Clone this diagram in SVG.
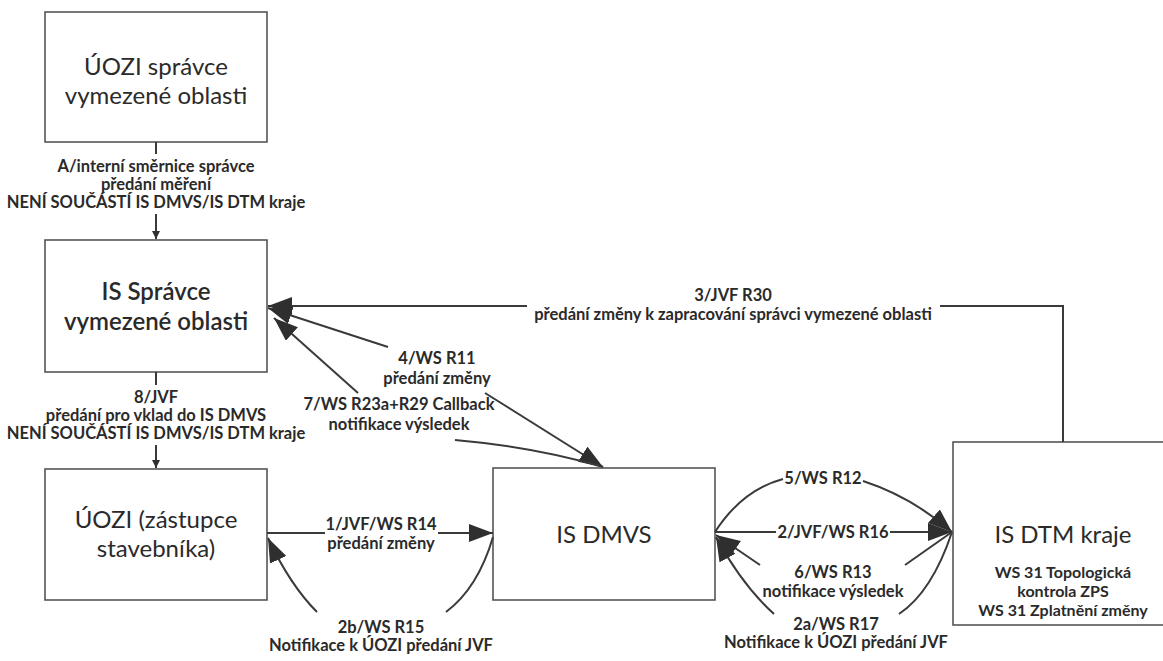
<svg xmlns="http://www.w3.org/2000/svg" width="1163" height="661" viewBox="0 0 1163 661">
<defs>
<style>
.box{fill:#fff;stroke:#555;stroke-width:1.6}
.bt{font-family:Lato,"Liberation Sans",sans-serif;font-size:24px;fill:#2a2a2a;text-anchor:middle}
.st{font-family:Lato,"Liberation Sans",sans-serif;font-size:16px;font-weight:bold;fill:#2a2a2a;text-anchor:middle}
.lb{font-family:Lato,"Liberation Sans",sans-serif;font-size:16.5px;font-weight:bold;fill:#2a2a2a;text-anchor:middle}
.ln{fill:none;stroke:#3a3a3a;stroke-width:2}
.big{marker-end:url(#ah)}
.sm{marker-end:url(#as)}
</style>
<marker id="ah" markerUnits="userSpaceOnUse" markerWidth="26" markerHeight="20" refX="24" refY="9" orient="auto">
<path d="M0,0 L24,9 L0,18 Z" fill="#2f2f2f"/>
</marker>
<marker id="as" markerUnits="userSpaceOnUse" markerWidth="10" markerHeight="10" refX="8" refY="4" orient="auto">
<path d="M0,0 L8,4 L0,8 Z" fill="#2f2f2f"/>
</marker>
</defs>
<rect width="1163" height="661" fill="#fff"/>

<g id="uozi-spravce">
<rect class="box" x="45" y="12" width="222" height="130"/>
<text class="bt" x="156" y="75">ÚOZI správce</text>
<text class="bt" x="156" y="104">vymezené oblasti</text>
</g>

<g id="is-spravce">
<rect class="box" x="45" y="240" width="222" height="132"/>
<text class="bt" x="156" y="300" font-weight="600">IS Správce</text>
<text class="bt" x="156" y="330" font-weight="600">vymezené oblasti</text>
</g>

<g id="uozi-stavebnik">
<rect class="box" x="45" y="469" width="222" height="131"/>
<text class="bt" x="156" y="528">ÚOZI (zástupce</text>
<text class="bt" x="156" y="557">stavebníka)</text>
</g>

<g id="is-dmvs">
<rect class="box" x="493" y="468" width="222" height="132"/>
<text class="bt" x="604" y="543">IS DMVS</text>
</g>

<g id="is-dtm">
<rect class="box" x="953" y="442" width="222" height="183"/>
<text class="bt" x="1063" y="543">IS DTM kraje</text>
<text class="st" x="1063" y="578">WS 31 Topologická</text>
<text class="st" x="1063" y="597">kontrola ZPS</text>
<text class="st" x="1063" y="616">WS 31 Zplatnění změny</text>
</g>

<g id="connectors">
<!-- A -->
<path class="ln" d="M156,142 L156,154"/>
<path class="ln sm" d="M156,214 L156,239" stroke-width="1.5"/>
<!-- 8 -->
<path class="ln" d="M156,372 L156,385"/>
<path class="ln sm" d="M156,445 L156,468" stroke-width="1.5"/>
<!-- 3 -->
<path class="ln" d="M940,306 L1063,306 L1063,442"/>
<path class="ln big" d="M527,306 L268,306"/>
<!-- 4 -->
<path class="ln big" d="M388,347 L268,308"/>
<path class="ln big" d="M485,393 L603,467"/>
<!-- 7 -->
<path class="ln big" d="M358,393 L274,318"/>
<path class="ln" d="M455,440 Q535,447 603,467"/>
<!-- 1 -->
<path class="ln" d="M267,533 L325,533"/>
<path class="ln big" d="M438,533 L493,533"/>
<!-- 2b -->
<path class="ln" d="M493,537 Q478,588 446,612"/>
<path class="ln big" d="M317,612 Q290,585 268,538"/>
<!-- 5 -->
<path class="ln" d="M715,532 Q742,490 783,479"/>
<path class="ln big" d="M863,481 Q912,497 952,532"/>
<!-- 2 -->
<path class="ln" d="M715,532 L776,532"/>
<path class="ln big" d="M890,532 L952,532"/>
<!-- 6 -->
<path class="ln" d="M952,532 L905,565"/>
<path class="ln big" d="M760,565 L716,535"/>
<!-- 2a -->
<path class="ln" d="M952,532 Q932,592 899,614"/>
<path class="ln big" d="M774,614 Q742,585 716,537"/>
</g>

<g id="labels">
<text class="lb" x="156" y="172">A/interní směrnice správce</text>
<text class="lb" x="156" y="190">předání měření</text>
<text class="lb" x="156" y="208">NENÍ SOUČÁSTÍ IS DMVS/IS DTM kraje</text>

<text class="lb" x="156" y="403">8/JVF</text>
<text class="lb" x="156" y="421">předání pro vklad do IS DMVS</text>
<text class="lb" x="156" y="439">NENÍ SOUČÁSTÍ IS DMVS/IS DTM kraje</text>

<text class="lb" x="733" y="301">3/JVF R30</text>
<text class="lb" x="733" y="320">předání změny k zapracování správci vymezené oblasti</text>

<text class="lb" x="437" y="364">4/WS R11</text>
<text class="lb" x="437" y="384">předání změny</text>

<text class="lb" x="399" y="410">7/WS R23a+R29 Callback</text>
<text class="lb" x="399" y="430">notifikace výsledek</text>

<text class="lb" x="381" y="530">1/JVF/WS R14</text>
<text class="lb" x="381" y="549">předání změny</text>

<text class="lb" x="381" y="633">2b/WS R15</text>
<text class="lb" x="381" y="651">Notifikace k ÚOZI předání JVF</text>

<text class="lb" x="823" y="484">5/WS R12</text>
<text class="lb" x="833" y="538">2/JVF/WS R16</text>

<text class="lb" x="833" y="578">6/WS R13</text>
<text class="lb" x="833" y="597">notifikace výsledek</text>

<text class="lb" x="836" y="630">2a/WS R17</text>
<text class="lb" x="836" y="648">Notifikace k ÚOZI předání JVF</text>
</g>
</svg>
